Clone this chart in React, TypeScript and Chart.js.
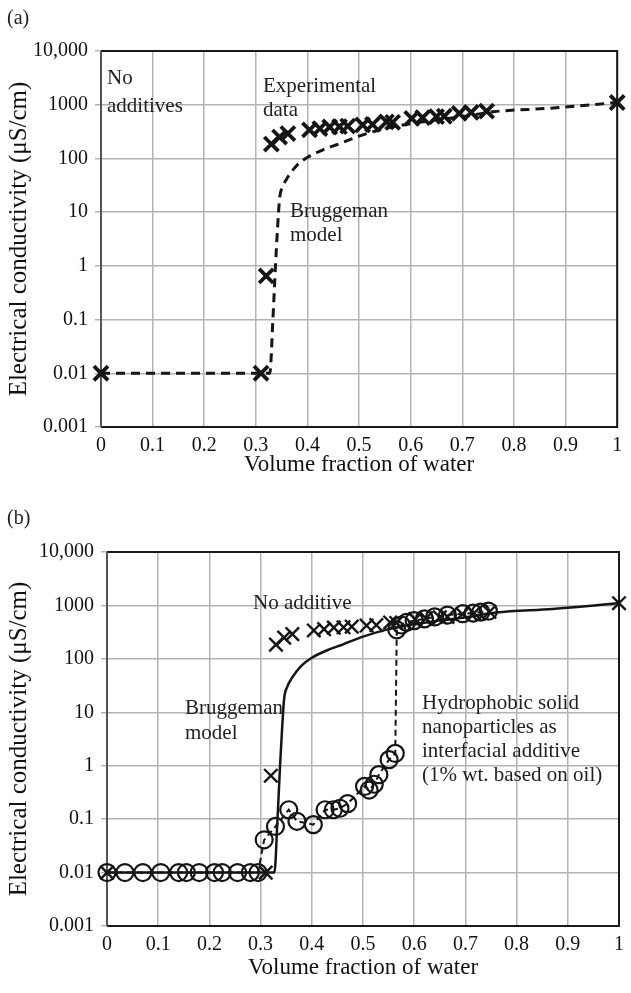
import React, { useEffect, useRef } from "react";
import { Chart, registerables } from "chart.js";

Chart.register(...registerables);

const SERIF = "'Liberation Serif', 'Times New Roman', Times, serif";

// ---- tick labels ----
const xTickValues = [0, 0.1, 0.2, 0.3, 0.4, 0.5, 0.6, 0.7, 0.8, 0.9, 1];
const xTickLabels = ["0", "0.1", "0.2", "0.3", "0.4", "0.5", "0.6", "0.7", "0.8", "0.9", "1"];
const yTickValues = [0.001, 0.01, 0.1, 1, 10, 100, 1000, 10000];
const yTickLabels = ["0.001", "0.01", "0.1", "1", "10", "100", "1000", "10,000"];

// ---- experimental data (no additive), crosses ----
const expX = [0, 0.31, 0.32, 0.33, 0.346, 0.362, 0.404, 0.424, 0.443, 0.462, 0.478, 0.507, 0.526, 0.553, 0.565, 0.602, 0.623, 0.65, 0.665, 0.694, 0.717, 0.747, 1.0];
const expY = [0.01, 0.01, 0.65, 185, 250, 290, 340, 360, 385, 390, 400, 420, 430, 480, 470, 555, 575, 600, 610, 690, 720, 760, 1100];

// ---- Bruggeman model ----
const brugX = [0, 0.327, 0.333, 0.338, 0.342, 0.346, 0.352, 0.36, 0.37, 0.38, 0.4, 0.43, 0.46, 0.5, 0.55, 0.6, 0.65, 0.7, 0.76, 0.87, 1.0];
const brugY = [0.01, 0.01, 0.1, 1, 5, 18, 30, 42, 58, 75, 105, 145, 185, 260, 360, 445, 520, 600, 740, 860, 1100];

// ---- hydrophobic solid nanoparticles, circles ----
const nanoX = [0, 0.035, 0.07, 0.105, 0.14, 0.155, 0.18, 0.21, 0.225, 0.255, 0.28, 0.295, 0.307, 0.329, 0.355, 0.371, 0.403, 0.426, 0.442, 0.455, 0.47, 0.503, 0.512, 0.522, 0.531, 0.551, 0.563, 0.566, 0.575, 0.585, 0.6, 0.62, 0.64, 0.665, 0.695, 0.715, 0.73, 0.745];
const nanoY = [0.01, 0.01, 0.01, 0.01, 0.01, 0.01, 0.01, 0.01, 0.01, 0.01, 0.01, 0.01, 0.041, 0.073, 0.15, 0.091, 0.079, 0.15, 0.15, 0.16, 0.195, 0.41, 0.35, 0.45, 0.68, 1.3, 1.7, 350, 430, 480, 520, 560, 610, 660, 700, 720, 750, 780];

const xTitle = "Volume fraction of water";
const yTitle = "Electrical conductivity (\u03bcS/cm)";

type Note = { text: string; dx: number; dy: number };

type Spec = {
  key: string;
  label: string;
  top: number;
  height: number;
  yAxisW: number;
  xAxisH: number;
  padTop: number;
  padRight: number;
  xTitlePad: number;
  notes: Note[];
  dashedModel: boolean;
  crossWidth: number;
  crossRadius: number;
  withNano: boolean;
};

const specA: Spec = {
  key: "a",
  label: "(a)",
  top: 0,
  height: 495,
  yAxisW: 101,
  xAxisH: 68,
  padTop: 51,
  padRight: 13,
  xTitlePad: 16,
  notes: [
    { text: "No", dx: 6, dy: 33 },
    { text: "additives", dx: 6, dy: 61 },
    { text: "Experimental", dx: 162, dy: 41 },
    { text: "data", dx: 162, dy: 65 },
    { text: "Bruggeman", dx: 189, dy: 166 },
    { text: "model", dx: 189, dy: 190 },
  ],
  dashedModel: true,
  crossWidth: 3.8,
  crossRadius: 10,
  withNano: false,
};

const specB: Spec = {
  key: "b",
  label: "(b)",
  top: 500,
  height: 493,
  yAxisW: 107,
  xAxisH: 67,
  padTop: 52,
  padRight: 5,
  xTitlePad: 11,
  notes: [
    { text: "No additive", dx: 146, dy: 57 },
    { text: "Bruggeman", dx: 78, dy: 162 },
    { text: "model", dx: 78, dy: 187 },
    { text: "Hydrophobic solid", dx: 315, dy: 157 },
    { text: "nanoparticles as", dx: 315, dy: 181 },
    { text: "interfacial additive", dx: 315, dy: 205 },
    { text: "(1% wt. based on oil)", dx: 315, dy: 229 },
  ],
  dashedModel: false,
  crossWidth: 2.4,
  crossRadius: 9.5,
  withNano: true,
};

function pts(xs: number[], ys: number[]) {
  return xs.map((x, i) => ({ x, y: ys[i] }));
}

const framePlugin = {
  id: "frame",
  beforeDatasetsDraw(chart: any) {
    const { ctx, chartArea } = chart;
    const { left, top, right, bottom } = chartArea;
    ctx.save();
    ctx.lineWidth = 2;
    ctx.strokeStyle = "#1a1a1a";
    ctx.beginPath();
    ctx.moveTo(left, top);
    ctx.lineTo(right, top);
    ctx.lineTo(right, bottom);
    ctx.lineTo(left, bottom);
    ctx.stroke();
    ctx.strokeStyle = "#555";
    ctx.beginPath();
    ctx.moveTo(left, top);
    ctx.lineTo(left, bottom);
    ctx.stroke();
    ctx.restore();
  },
};

function notesPlugin(spec: Spec) {
  return {
    id: "notes" + spec.key,
    afterDraw(chart: any) {
      const { ctx, chartArea } = chart;
      ctx.save();
      ctx.fillStyle = "#1f1f1f";
      ctx.textAlign = "left";
      ctx.textBaseline = "alphabetic";
      ctx.font = `21px ${SERIF}`;
      for (const n of spec.notes) {
        ctx.fillText(n.text, chartArea.left + n.dx, chartArea.top + n.dy);
      }
      ctx.font = `20px ${SERIF}`;
      ctx.fillText(spec.label, 7, 24);
      ctx.restore();
    },
  };
}

function buildChart(canvas: HTMLCanvasElement, spec: Spec) {
  const datasets: any[] = [
    {
      label: "Bruggeman model",
      data: pts(brugX, brugY),
      showLine: true,
      borderColor: "#151515",
      borderWidth: spec.dashedModel ? 3 : 2.5,
      borderDash: spec.dashedModel ? [9, 6] : [],
      pointRadius: 0,
      cubicInterpolationMode: "monotone",
      clip: false,
      order: 3,
    },
    {
      label: "No additive",
      data: pts(expX, expY),
      showLine: false,
      pointStyle: "crossRot",
      pointRadius: spec.crossRadius,
      pointBorderWidth: spec.crossWidth,
      pointBorderColor: "#151515",
      borderColor: "#151515",
      clip: false,
      order: 1,
    },
  ];
  if (spec.withNano) {
    datasets.push({
      label: "Hydrophobic solid nanoparticles",
      data: pts(nanoX, nanoY),
      showLine: true,
      borderColor: "#151515",
      borderWidth: 2,
      borderDash: [6, 4],
      pointStyle: "circle",
      pointRadius: 8.5,
      pointBorderWidth: 2.2,
      pointBorderColor: "#151515",
      pointBackgroundColor: "rgba(0,0,0,0)",
      clip: false,
      order: 2,
    });
  }

  return new Chart(canvas, {
    type: "scatter",
    data: { datasets },
    options: {
      animation: false,
      responsive: false,
      devicePixelRatio: 1,
      layout: { padding: { top: spec.padTop, right: spec.padRight, left: 0, bottom: 0 } },
      plugins: {
        legend: { display: false },
        tooltip: { enabled: false },
      },
      scales: {
        x: {
          type: "linear",
          min: 0,
          max: 1,
          afterBuildTicks: (s: any) => {
            s.ticks = xTickValues.map((v) => ({ value: v }));
          },
          afterFit: (s: any) => {
            s.height = spec.xAxisH;
          },
          ticks: {
            autoSkip: false,
            maxRotation: 0,
            padding: 7,
            color: "#111",
            font: { family: SERIF, size: 20 },
            callback: (v: any) => {
              const i = xTickValues.findIndex((t) => Math.abs(t - Number(v)) < 1e-9);
              return i >= 0 ? xTickLabels[i] : "";
            },
          },
          grid: { color: "#b3b3b3", lineWidth: 1.5, drawTicks: false },
          border: { display: false },
          title: {
            display: true,
            text: xTitle,
            color: "#111",
            font: { family: SERIF, size: 23 },
            padding: { top: 0, bottom: spec.xTitlePad },
          },
        },
        y: {
          type: "logarithmic",
          min: 0.001,
          max: 10000,
          afterBuildTicks: (s: any) => {
            s.ticks = yTickValues.map((v) => ({ value: v }));
          },
          afterFit: (s: any) => {
            s.width = spec.yAxisW;
          },
          ticks: {
            autoSkip: false,
            padding: 7,
            color: "#111",
            font: { family: SERIF, size: 20 },
            callback: (v: any) => {
              const i = yTickValues.findIndex((t) => Math.abs(Math.log10(t) - Math.log10(Number(v))) < 1e-6);
              return i >= 0 ? yTickLabels[i] : "";
            },
          },
          grid: { color: "#b3b3b3", lineWidth: 1.5, drawTicks: true, tickLength: 6 },
          border: { display: false },
          title: {
            display: true,
            text: yTitle,
            color: "#111",
            font: { family: SERIF, size: 25 },
            padding: { top: 4, bottom: 0 },
          },
        },
      },
    } as any,
    plugins: [framePlugin, notesPlugin(spec)],
  });
}

function Panel({ spec }: { spec: Spec }) {
  const ref = useRef<HTMLCanvasElement>(null);
  useEffect(() => {
    if (!ref.current) return;
    const chart = buildChart(ref.current, spec);
    return () => chart.destroy();
  }, [spec]);
  return (
    <canvas
      ref={ref}
      width={631}
      height={spec.height}
      style={{ position: "absolute", left: 0, top: spec.top, width: 631, height: spec.height }}
    />
  );
}

export default function App() {
  return (
    <div
      style={{
        position: "absolute",
        left: 0,
        top: 0,
        width: 631,
        height: 993,
        background: "#fff",
        overflow: "hidden",
      }}
    >
      <Panel spec={specA} />
      <Panel spec={specB} />
    </div>
  );
}
